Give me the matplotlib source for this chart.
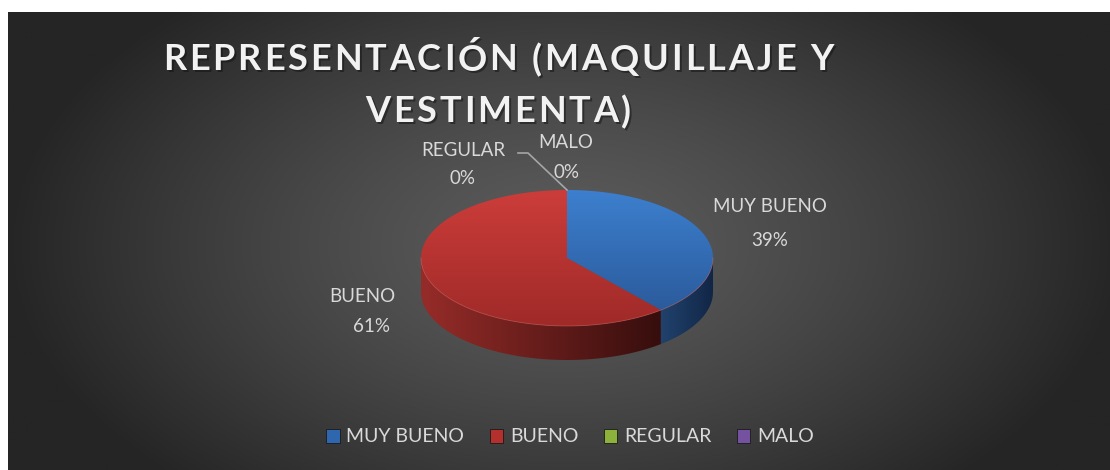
import numpy as np
import matplotlib.pyplot as plt
from matplotlib.patches import Polygon, Patch
from matplotlib.colors import LinearSegmentedColormap
from matplotlib.font_manager import FontProperties

plt.rcParams['font.family'] = ['Lato', 'DejaVu Sans']

# data
categories = ['MUY BUENO', 'BUENO', 'REGULAR', 'MALO']
counts = [7, 11, 0, 0]
pct_labels = ['39%', '61%', '0%', '0%']
top_colors = [('#3d80cf', '#2b5b9c'), ('#cc3d3a', '#9f2a28'),
              ('#9bbb59', '#7a9a3a'), ('#8064a2', '#5f4a7e')]
side_colors = [('#21426d', '#112646'), ('#962c29', '#360e0d'),
               ('#6b8a2c', '#4a6020'), ('#56437a', '#3a2d55')]
legend_colors = ['#2f67ae', '#b3302d', '#8cb23c', '#7552a0']
title_lines = ['REPRESENTACIÓN (MAQUILLAJE Y', 'VESTIMENTA)']

W, H = 1110, 470
fig = plt.figure(figsize=(W / 100, H / 100), dpi=100)
fig.patch.set_facecolor('white')
ax = fig.add_axes([0, 0, 1, 1])
ax.set_xlim(0, W)
ax.set_ylim(H, 0)
ax.axis('off')

# background with radial gradient
bx0, by0 = 8, 12
gx, gy = np.meshgrid(np.linspace(bx0, W, 400), np.linspace(by0, H, 200))
r = np.sqrt(((gx - 565) / 560) ** 2 + ((gy - 245) / 330) ** 2)
t = np.clip(r, 0, 1) ** 1.3
c0 = np.array([0x5c, 0x5c, 0x5c]) / 255
c1 = np.array([0x25, 0x25, 0x25]) / 255
bg = c0[None, None, :] * (1 - t[..., None]) + c1[None, None, :] * t[..., None]
ax.imshow(bg, extent=(bx0, W, H, by0), origin='upper', aspect='auto', zorder=0)


def grad_fill(poly, c_a, c_b, horizontal=False, z=2):
    ax.add_patch(poly)
    xs, ys = poly.get_xy()[:, 0], poly.get_xy()[:, 1]
    cmap = LinearSegmentedColormap.from_list('g', [c_a, c_b])
    if horizontal:
        arr = np.linspace(0, 1, 256)[None, :]
    else:
        arr = np.linspace(0, 1, 256)[:, None]
    im = ax.imshow(arr, cmap=cmap, extent=(xs.min(), xs.max(), ys.max(), ys.min()),
                   origin='upper', aspect='auto', zorder=z)
    im.set_clip_path(poly)


# 3d pie geometry
cx, cy, a, b, depth = 567, 258, 146, 68, 34
fracs = np.array(counts) / sum(counts)
starts = np.concatenate([[0], np.cumsum(fracs)[:-1]]) * 360
ends = np.cumsum(fracs) * 360


def pt(th, dy=0):
    th = np.radians(th)
    return cx + a * np.sin(th), cy - b * np.cos(th) + dy


# side walls (front half only: 90..270)
for i in range(len(counts)):
    s0, s1 = max(starts[i], 90), min(ends[i], 270)
    if s1 <= s0:
        continue
    th = np.linspace(s0, s1, 80)
    top = np.array([pt(v) for v in th])
    bot = np.array([pt(v, depth) for v in th[::-1]])
    poly = Polygon(np.vstack([top, bot]), closed=True, fc='none', ec='none', zorder=2)
    grad_fill(poly, side_colors[i][0], side_colors[i][1], horizontal=True, z=2)

# top face
for i in range(len(counts)):
    if ends[i] - starts[i] <= 0:
        continue
    th = np.linspace(starts[i], ends[i], 150)
    arc = np.array([pt(v) for v in th])
    poly = Polygon(np.vstack([[cx, cy], arc]), closed=True, fc='none', ec='none', zorder=3)
    grad_fill(poly, top_colors[i][0], top_colors[i][1], z=3)

# light rim on front edge
th = np.linspace(90, 270, 150)
rim = np.array([pt(v) for v in th])
ax.plot(rim[:, 0], rim[:, 1], color='#e06a66', lw=0.6, alpha=0.5, zorder=4)

# labels
lab_col = '#d9d9d9'
fs = 13.5
ax.text(770, 206, categories[0], ha='center', va='center', fontsize=fs, color=lab_col)
ax.text(770, 240, pct_labels[0], ha='center', va='center', fontsize=fs, color=lab_col)
ax.text(362, 297, categories[1], ha='center', va='center', fontsize=fs, color=lab_col)
ax.text(372, 327, pct_labels[1], ha='center', va='center', fontsize=fs, color=lab_col)
ax.text(463, 150, categories[2], ha='center', va='center', fontsize=fs, color=lab_col)
ax.text(463, 179, pct_labels[2], ha='center', va='center', fontsize=fs, color=lab_col)
ax.text(566, 142, categories[3], ha='center', va='center', fontsize=fs, color=lab_col)
ax.text(566, 172, pct_labels[3], ha='center', va='center', fontsize=fs, color=lab_col)
tx, ty = pt(starts[2])
ax.plot([518, 528, tx], [153, 153, ty], color='#a6a6a6', lw=1.2, zorder=5)

# title with letter spacing (placed char by char)
renderer = fig.canvas.get_renderer()
tprop = FontProperties(family='Lato', weight='bold', size=26)


def txt_w(s):
    return renderer.get_text_width_height_descent(s, tprop, ismath=False)[0]


def spaced_title(s, xc, yc, track):
    lefts = [txt_w(s[:i] + 'X') - txt_w('X') + i * track for i in range(len(s))]
    total = txt_w(s) + (len(s) - 1) * track
    x0 = xc - total / 2
    for dx, col, al in [(2, '#111111', 0.5), (0, '#f2f2f2', 1)]:
        for ch, lx in zip(s, lefts):
            if ch == ' ':
                continue
            ax.text(x0 + lx + dx, yc + dx, ch, ha='left', va='center',
                    fontproperties=tprop, color=col, alpha=al, zorder=6)


spaced_title(title_lines[0], 498, 60, 2.9)
spaced_title(title_lines[1], 498, 112, 2.9)

# legend
handles = [Patch(fc=c, ec='#1a1a1a', lw=0.6) for c in legend_colors]
leg = ax.legend(handles, categories, loc='center', bbox_to_anchor=(570 / W, 1 - 437 / H),
                ncol=4, frameon=False, fontsize=14, labelcolor=lab_col,
                handlelength=0.7, handleheight=0.7, handletextpad=0.35,
                columnspacing=1.3)

fig.savefig('out.png', dpi=100, facecolor='white')
